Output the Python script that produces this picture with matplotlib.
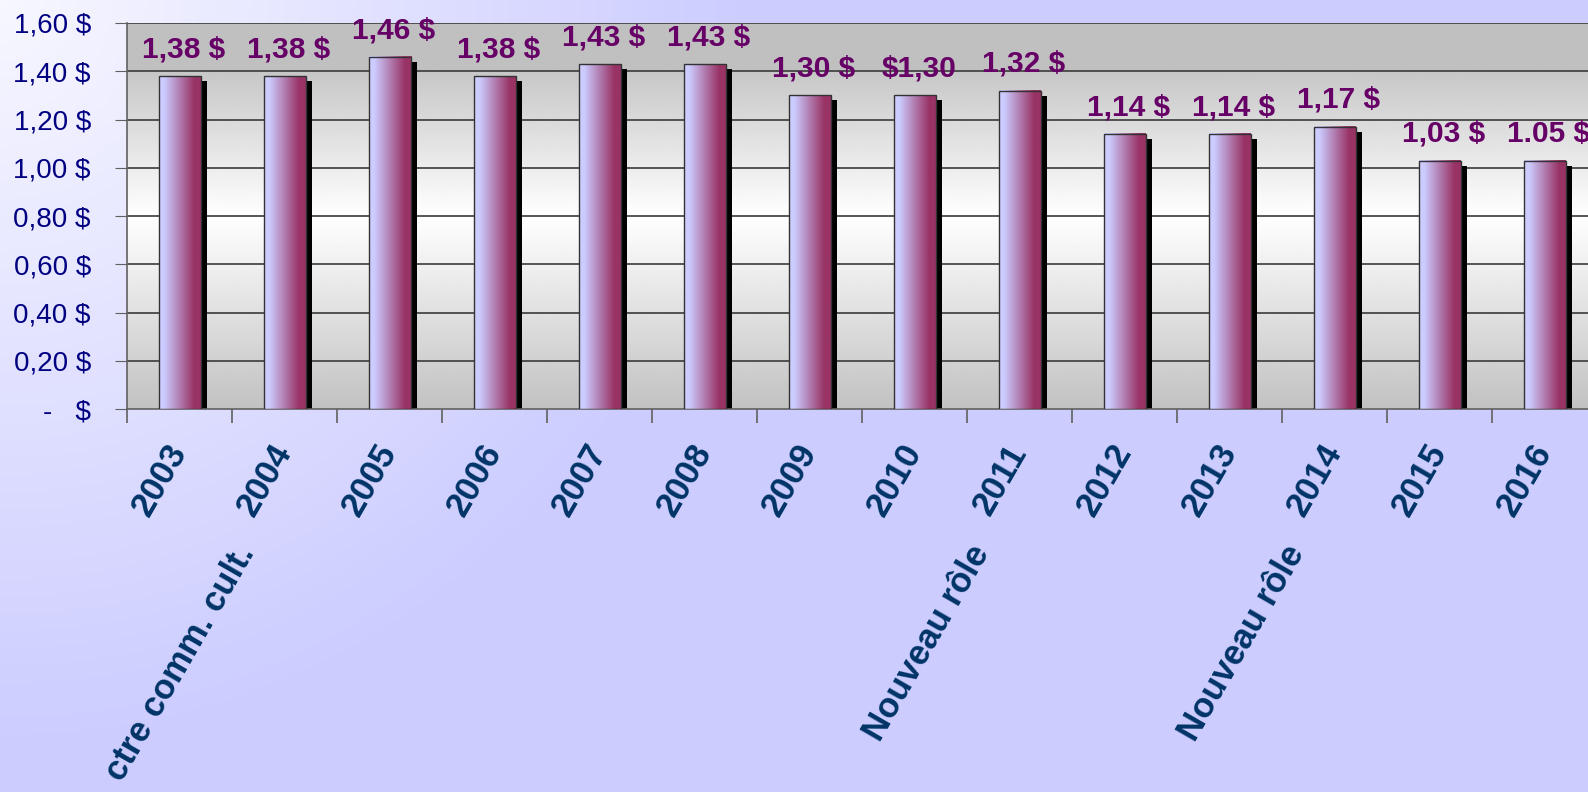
import numpy as np
import matplotlib.pyplot as plt
from matplotlib.colors import LinearSegmentedColormap
from matplotlib.patches import Rectangle
import matplotlib.transforms as mtransforms

plt.rcParams['font.family'] = ['Liberation Sans', 'DejaVu Sans']

# Données
annees = ['2003', '2004', '2005', '2006', '2007', '2008', '2009',
          '2010', '2011', '2012', '2013', '2014', '2015', '2016']
valeurs = [1.38, 1.38, 1.46, 1.38, 1.43, 1.43, 1.30,
           1.30, 1.32, 1.14, 1.14, 1.17, 1.03, 1.03]
etiquettes = ['1,38 $', '1,38 $', '1,46 $', '1,38 $', '1,43 $', '1,43 $', '1,30 $',
              '$1,30', '1,32 $', '1,14 $', '1,14 $', '1,17 $', '1,03 $', '1.05 $']
notes = {1: 'ctre comm. cult.', 8: 'Nouveau rôle', 11: 'Nouveau rôle'}
yticks = [0, 0.2, 0.4, 0.6, 0.8, 1.0, 1.2, 1.4, 1.6]
ytick_labels = ['-   $', '0,20 $', '0,40 $', '0,60 $', '0,80 $',
                '1,00 $', '1,20 $', '1,40 $', '1,60 $']

W, H, DPI = 1588, 792, 100
fig = plt.figure(figsize=(W / DPI, H / DPI), dpi=DPI)

# fond de la figure (dégradé lavande)
bg = fig.add_axes([0, 0, 1, 1], zorder=-10)
yy, xx = np.mgrid[0:H:4, 0:W:4]
t = np.clip(np.sqrt(xx ** 2 + yy ** 2) / 750, 0, 1)
c0 = np.array([0.97, 0.97, 1.0])
c1 = np.array([0.80, 0.80, 1.0])
img = c0[None, None, :] * (1 - t[..., None]) + c1[None, None, :] * t[..., None]
bg.imshow(img, extent=[0, 1, 0, 1], aspect='auto', origin='upper')
bg.axis('off')

left, top, bottom = 127, 23, 409
ax = fig.add_axes([left / W, (H - bottom) / H, 14 * 105 / W, (bottom - top) / H])

n = len(annees)
x = np.arange(n)

# fond de la zone de traçage (gris -> blanc -> gris)
v = np.linspace(0, 1.6, 400)
g = np.where(v >= 1.4, 0.75,
             np.where(v >= 0.8, 0.78 + (1.4 - v) / 0.6 * 0.22,
                      0.76 + v / 0.8 * 0.24))
pimg = np.repeat(g[::-1, None], 2, axis=1)
ax.imshow(pimg, extent=[-0.5, n - 0.5, 0, 1.6], aspect='auto', cmap='gray',
          vmin=0, vmax=1, zorder=0, interpolation='bilinear')

for yv in yticks[1:]:
    ax.axhline(yv, color='#3a3a3a', lw=1.2, zorder=1)

# barres en dégradé
cmap = LinearSegmentedColormap.from_list('barre', ['#ccccff', '#993366'])
grad = np.clip((np.linspace(0, 1, 128) - 0.12) / 0.72, 0, 1)[None, :]
larg = 0.4
ombre = ax.transData + mtransforms.ScaledTranslation(6 / DPI, -5 / DPI, fig.dpi_scale_trans)
for xi, val in zip(x, valeurs):
    ax.add_patch(Rectangle((xi - larg / 2, 0), larg, val, facecolor='black',
                           edgecolor='none', transform=ombre, zorder=2))
    ax.imshow(grad, extent=[xi - larg / 2, xi + larg / 2, 0, val], aspect='auto',
              cmap=cmap, vmin=0, vmax=1, zorder=3, interpolation='bilinear')
    ax.add_patch(Rectangle((xi - larg / 2, 0), larg, val, facecolor='none',
                           edgecolor='#333333', lw=1, zorder=3.5))

for xi, val, lab in zip(x, valeurs, etiquettes):
    ax.annotate(lab, xy=(xi, val), xytext=(3, 13.5), textcoords='offset points',
                ha='center', va='baseline', fontsize=21.5, fontweight='bold',
                color='#660066', zorder=5, annotation_clip=False)

ax.set_xlim(-0.5, n - 0.5)
ax.set_ylim(0, 1.6)

# axes et graduations
ax.set_yticks(yticks)
ax.set_yticklabels(ytick_labels, fontsize=20, color='#000080')
ax.tick_params(axis='y', length=9, color='#606060', pad=17)
ax.set_xticks(x)
ax.set_xticklabels(annees, fontsize=25, fontweight='bold', color='#003366',
                   rotation=60, ha='right', va='center', rotation_mode='anchor')
for lab in ax.get_xticklabels():
    lab.set_transform(lab.get_transform() + mtransforms.ScaledTranslation(4 / DPI, 0, fig.dpi_scale_trans))
ax.tick_params(axis='x', which='major', length=0, pad=27)
ax.set_xticks(np.arange(n + 1) - 0.5, minor=True)
ax.tick_params(axis='x', which='minor', length=10, color='#606060', width=1.2)
for s in ['top', 'right']:
    ax.spines[s].set_visible(False)
for s in ['left', 'bottom']:
    ax.spines[s].set_color('#606060')
    ax.spines[s].set_linewidth(1.2)

for i, txt in notes.items():
    ax.annotate(txt, xy=(i, 0), xycoords=('data', 'axes fraction'),
                xytext=(-27, -100), textcoords='offset points',
                rotation=60, ha='right', va='center', rotation_mode='anchor',
                fontsize=25, fontweight='bold', color='#003366',
                annotation_clip=False)

fig.savefig('out.png', dpi=DPI)
